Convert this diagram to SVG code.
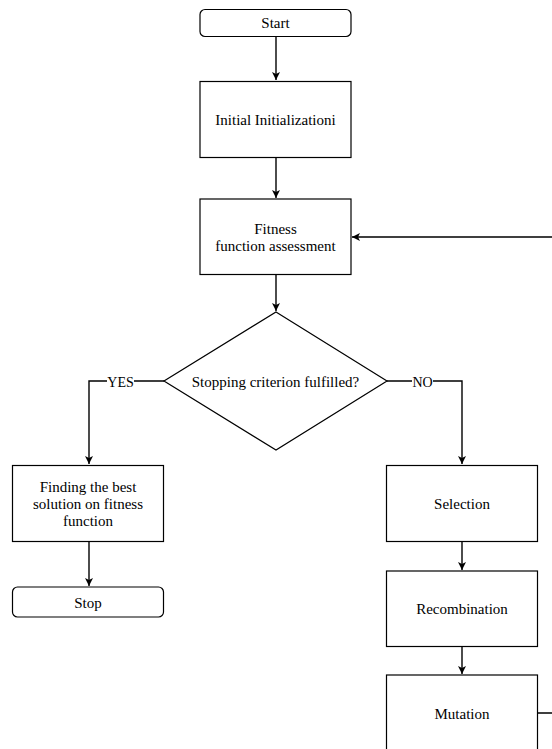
<svg xmlns="http://www.w3.org/2000/svg" width="552" height="749" viewBox="0 0 552 749">
<defs>
<marker id="arr" markerWidth="10" markerHeight="10" refX="9" refY="5" orient="auto" markerUnits="userSpaceOnUse">
<path d="M1,1 L9,5 L1,9 L3,5 Z" fill="#000"/>
</marker>
<style>
.box{fill:#fff;stroke:#000;stroke-width:1.2}
.t{font-family:'Liberation Serif','Times New Roman',serif;font-size:15px;fill:#000;text-anchor:middle;dominant-baseline:central}
.l{font-family:'Liberation Serif','Times New Roman',serif;font-size:14px;fill:#000;text-anchor:middle;dominant-baseline:central}
.c{fill:none;stroke:#000;stroke-width:1.4}
.lbl{fill:#fff}
</style>
</defs>
<rect width="552" height="749" fill="#fff"/>
<g id="connectors">
<path class="c" d="M276,36.5 V80" marker-end="url(#arr)"/>
<path class="c" d="M276,157.5 V198" marker-end="url(#arr)"/>
<path class="c" d="M276,274.5 V311" marker-end="url(#arr)"/>
<path class="c" d="M164,381 H89 V464" marker-end="url(#arr)"/>
<path class="c" d="M387,381 H462 V464" marker-end="url(#arr)"/>
<path class="c" d="M89,541.5 V586" marker-end="url(#arr)"/>
<path class="c" d="M462,541.5 V570" marker-end="url(#arr)"/>
<path class="c" d="M462,646.5 V674" marker-end="url(#arr)"/>
<path class="c" d="M537,713 H556 V237 H352" marker-end="url(#arr)"/>
<rect class="lbl" x="107" y="374" width="27" height="14"/>
<text class="l" x="120.5" y="382">YES</text>
<rect class="lbl" x="412" y="374" width="21" height="14"/>
<text class="l" x="422.5" y="382">NO</text>
</g>
<g id="start">
<rect class="box" x="200" y="9.5" width="151" height="27" rx="5"/>
<text class="t" x="275.5" y="23">Start</text>
</g>
<g id="init">
<rect class="box" x="200" y="81.5" width="151" height="76"/>
<text class="t" x="275.5" y="120">Initial Initializationi</text>
</g>
<g id="fitness">
<rect class="box" x="200" y="199" width="151" height="75.5"/>
<text class="t" x="275.5" y="229">Fitness</text>
<text class="t" x="275.5" y="246">function assessment</text>
</g>
<g id="decision">
<polygon class="box" points="276,312 387,381 276,450 164,381"/>
<text class="t" x="275.5" y="382">Stopping criterion fulfilled?</text>
</g>
<g id="best">
<rect class="box" x="12.5" y="465.5" width="151" height="76"/>
<text class="t" x="88" y="487">Finding the best</text>
<text class="t" x="88" y="504">solution on fitness</text>
<text class="t" x="88" y="521">function</text>
</g>
<g id="stop">
<rect class="box" x="12.5" y="587" width="151" height="30" rx="5"/>
<text class="t" x="88" y="603">Stop</text>
</g>
<g id="selection">
<rect class="box" x="386.5" y="465.5" width="151" height="76"/>
<text class="t" x="462" y="504">Selection</text>
</g>
<g id="recombination">
<rect class="box" x="386.5" y="571" width="151" height="75.5"/>
<text class="t" x="462" y="609">Recombination</text>
</g>
<g id="mutation">
<rect class="box" x="386.5" y="675" width="151" height="76"/>
<text class="t" x="462" y="714">Mutation</text>
</g>
</svg>
